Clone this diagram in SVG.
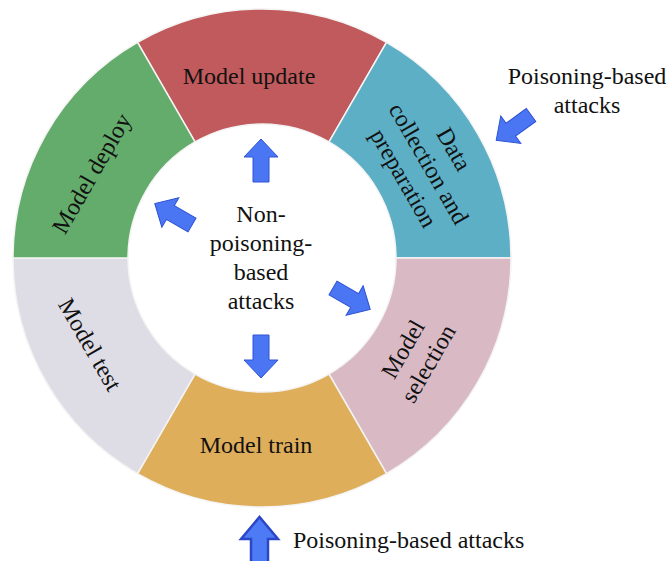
<svg xmlns="http://www.w3.org/2000/svg" width="668" height="561" viewBox="0 0 668 561">
  <style>
    .seg { stroke: #f4f4f4; stroke-width: 1.5; }
    .lbl { font-family: "Liberation Serif", "Times New Roman", serif; font-size: 24px; fill: #111; text-anchor: middle; }
    .lbl-start { font-family: "Liberation Serif", "Times New Roman", serif; font-size: 24px; fill: #111; }
    .arrow { fill: #4a76f3; stroke: #2e52d4; stroke-width: 1; stroke-linejoin: miter; }
    .arrow-big { fill: #4d7bf5; stroke: #2b46c6; stroke-width: 2.5; stroke-linejoin: miter; }
  </style>
  <defs>
    <!-- block arrow pointing along +x, tail centre at the origin -->
    <polygon id="blk" points="0,-8 25,-8 25,-17 43,0 25,17 25,8 0,8"/>
  </defs>

  <!-- ring of lifecycle stages, centre (262,258), R=249, r=134 -->
  <g id="stage-update">
    <path class="seg" fill="#c15a5c" d="M386.5 42.36 A249 249 0 0 0 137.5 42.36 L195 141.96 A134 134 0 0 1 329 141.96 Z"/>
    <text class="lbl" x="249" y="84">Model update</text>
  </g>
  <g id="stage-data">
    <path class="seg" fill="#5cafc5" d="M511 258 A249 249 0 0 0 386.5 42.36 L329 141.96 A134 134 0 0 1 396 258 Z"/>
    <g class="lbl" transform="translate(447,153) rotate(60)">
      <text x="0" y="0">Data</text>
      <text x="0" y="29">collection and</text>
      <text x="0" y="58">preparation</text>
    </g>
  </g>
  <g id="stage-selection">
    <path class="seg" fill="#d9bac4" d="M386.5 473.64 A249 249 0 0 0 511 258 L396 258 A134 134 0 0 1 329 374.04 Z"/>
    <g class="lbl" transform="translate(410,353) rotate(-60)">
      <text x="0" y="0">Model</text>
      <text x="0" y="29">selection</text>
    </g>
  </g>
  <g id="stage-train">
    <path class="seg" fill="#dfae5b" d="M137.5 473.64 A249 249 0 0 0 386.5 473.64 L329 374.04 A134 134 0 0 1 195 374.04 Z"/>
    <text class="lbl" x="256" y="453">Model train</text>
  </g>
  <g id="stage-test">
    <path class="seg" fill="#dedde5" d="M13 258 A249 249 0 0 0 137.5 473.64 L195 374.04 A134 134 0 0 1 128 258 Z"/>
    <text class="lbl" transform="translate(83,348.5) rotate(60)">Model test</text>
  </g>
  <g id="stage-deploy">
    <path class="seg" fill="#64ac6b" d="M137.5 42.36 A249 249 0 0 0 13 258 L128 258 A134 134 0 0 1 195 141.96 Z"/>
    <text class="lbl" transform="translate(98.5,177.5) rotate(-60)">Model deploy</text>
  </g>

  <!-- centre label -->
  <g id="non-poisoning">
    <text class="lbl" x="261" y="222">Non-</text>
    <text class="lbl" x="261" y="251">poisoning-</text>
    <text class="lbl" x="261" y="280">based</text>
    <text class="lbl" x="261" y="309">attacks</text>
  </g>

  <!-- outer labels -->
  <g id="poisoning-data">
    <text class="lbl" x="587" y="84">Poisoning-based</text>
    <text class="lbl" x="587" y="113">attacks</text>
  </g>
  <g id="poisoning-train">
    <text class="lbl-start" x="293" y="548">Poisoning-based attacks</text>
  </g>

  <!-- attack arrows -->
  <g id="connectors">
    <use href="#blk" class="arrow" transform="translate(261,182) rotate(-90)"/>
    <use href="#blk" class="arrow" transform="translate(261,335) rotate(90)"/>
    <use href="#blk" class="arrow" transform="translate(192,225) rotate(-150)"/>
    <use href="#blk" class="arrow" transform="translate(333,288) rotate(30)"/>
    <use href="#blk" class="arrow" transform="translate(531,115) rotate(144)"/>
    <polygon class="arrow-big" points="251,566 251,539 241,539 259.5,517 278,539 268,539 268,566"/>
  </g>
</svg>
